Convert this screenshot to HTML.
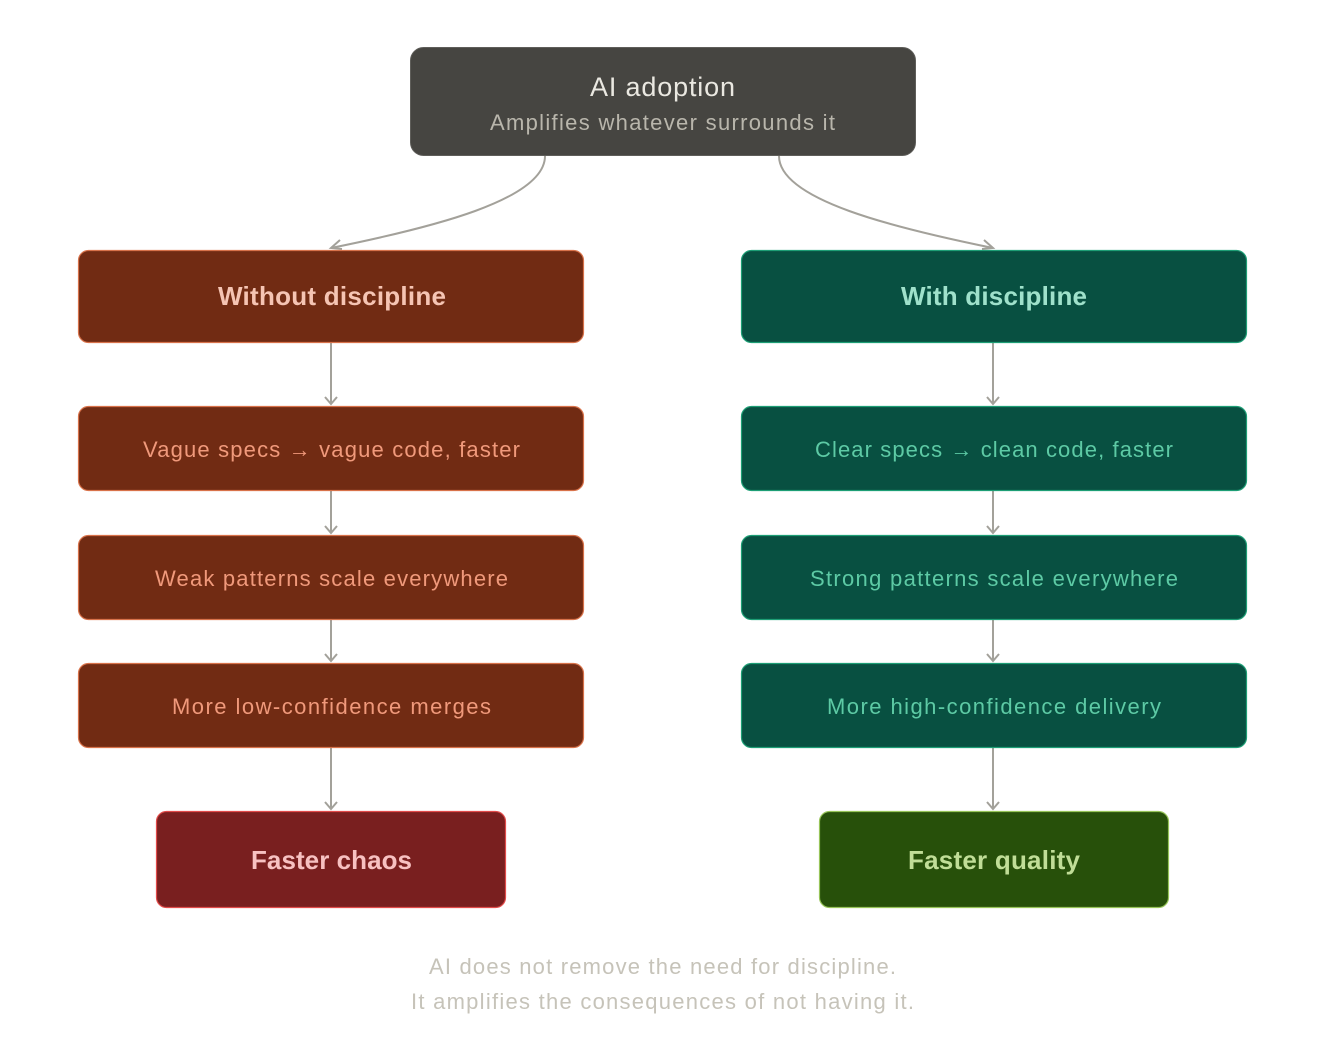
<!DOCTYPE html>
<html><head><meta charset="utf-8"><style>
html,body{margin:0;padding:0;background:#fff;}
svg{display:block;font-family:"Liberation Sans",sans-serif;}
</style></head><body>
<svg width="1326" height="1052" viewBox="0 0 1326 1052" xmlns="http://www.w3.org/2000/svg">
<g fill="none" stroke="#a3a19a" stroke-width="2">
<path d="M545,156 C545,200 430,228 331,248"/>
<path d="M779,156 C779,200 895,228 993,248"/>
<path d="M340,240 L331,248 L342,249"/>
<path d="M984,240 L993,248 L982,249"/>
<line x1="331" y1="343" x2="331" y2="404"/><path d="M325,397 L331,404 L337,397"/>
<line x1="331" y1="491" x2="331" y2="533"/><path d="M325,526 L331,533 L337,526"/>
<line x1="331" y1="620" x2="331" y2="661"/><path d="M325,654 L331,661 L337,654"/>
<line x1="331" y1="748" x2="331" y2="809"/><path d="M325,802 L331,809 L337,802"/>
<line x1="993" y1="343" x2="993" y2="404"/><path d="M987,397 L993,404 L999,397"/>
<line x1="993" y1="491" x2="993" y2="533"/><path d="M987,526 L993,533 L999,526"/>
<line x1="993" y1="620" x2="993" y2="661"/><path d="M987,654 L993,661 L999,654"/>
<line x1="993" y1="748" x2="993" y2="809"/><path d="M987,802 L993,809 L999,802"/>
</g>
<rect x="410.5" y="47.5" width="505" height="108" rx="13" fill="#464541" stroke="#5f5e5a"/>
<text x="590" y="96" textLength="145" lengthAdjust="spacing" font-size="27" font-weight="500" fill="#eae8e1">AI adoption</text>
<text x="490" y="130" textLength="345" lengthAdjust="spacing" font-size="22" fill="#b9b6ac">Amplifies whatever surrounds it</text>

<g stroke="#d8724a" stroke-width="1.2" fill="#712b13">
<rect x="78.5" y="250.5" width="505" height="92" rx="10"/>
<rect x="78.5" y="406.5" width="505" height="84" rx="10"/>
<rect x="78.5" y="535.5" width="505" height="84" rx="10"/>
<rect x="78.5" y="663.5" width="505" height="84" rx="10"/>
</g>
<g stroke="#1d9e75" stroke-width="1.2" fill="#085041">
<rect x="741.5" y="250.5" width="505" height="92" rx="10"/>
<rect x="741.5" y="406.5" width="505" height="84" rx="10"/>
<rect x="741.5" y="535.5" width="505" height="84" rx="10"/>
<rect x="741.5" y="663.5" width="505" height="84" rx="10"/>
</g>
<rect x="156.5" y="811.5" width="349" height="96" rx="10" fill="#791f1f" stroke="#e24b4a" stroke-width="1.2"/>
<rect x="819.5" y="811.5" width="349" height="96" rx="10" fill="#27500a" stroke="#97c459" stroke-width="1.2"/>

<g font-size="26" font-weight="bold" lengthAdjust="spacing">
<text x="218" y="305" textLength="228" lengthAdjust="spacing" fill="#f5c4b3">Without discipline</text>
<text x="901" y="305" textLength="186" lengthAdjust="spacing" fill="#9fe1cb">With discipline</text>
<text x="251" y="869" textLength="161" lengthAdjust="spacing" fill="#f7c1c1">Faster chaos</text>
<text x="908" y="869" textLength="172" lengthAdjust="spacing" fill="#c0dd97">Faster quality</text>
</g>
<g font-size="22">
<text x="143" y="457" textLength="377" lengthAdjust="spacing" fill="#f0997b">Vague specs → vague code, faster</text>
<text x="155" y="586" textLength="353" lengthAdjust="spacing" fill="#f0997b">Weak patterns scale everywhere</text>
<text x="172" y="714" textLength="319" lengthAdjust="spacing" fill="#f0997b">More low-confidence merges</text>
<text x="815" y="457" textLength="358" lengthAdjust="spacing" fill="#5dcaa5">Clear specs → clean code, faster</text>
<text x="810" y="586" textLength="368" lengthAdjust="spacing" fill="#5dcaa5">Strong patterns scale everywhere</text>
<text x="827" y="714" textLength="334" lengthAdjust="spacing" fill="#5dcaa5">More high-confidence delivery</text>
<text x="429" y="974" textLength="467" lengthAdjust="spacing" fill="#c6c3b9">AI does not remove the need for discipline.</text>
<text x="411" y="1009" textLength="503" lengthAdjust="spacing" fill="#c6c3b9">It amplifies the consequences of not having it.</text>
</g>
</svg>
</body></html>
